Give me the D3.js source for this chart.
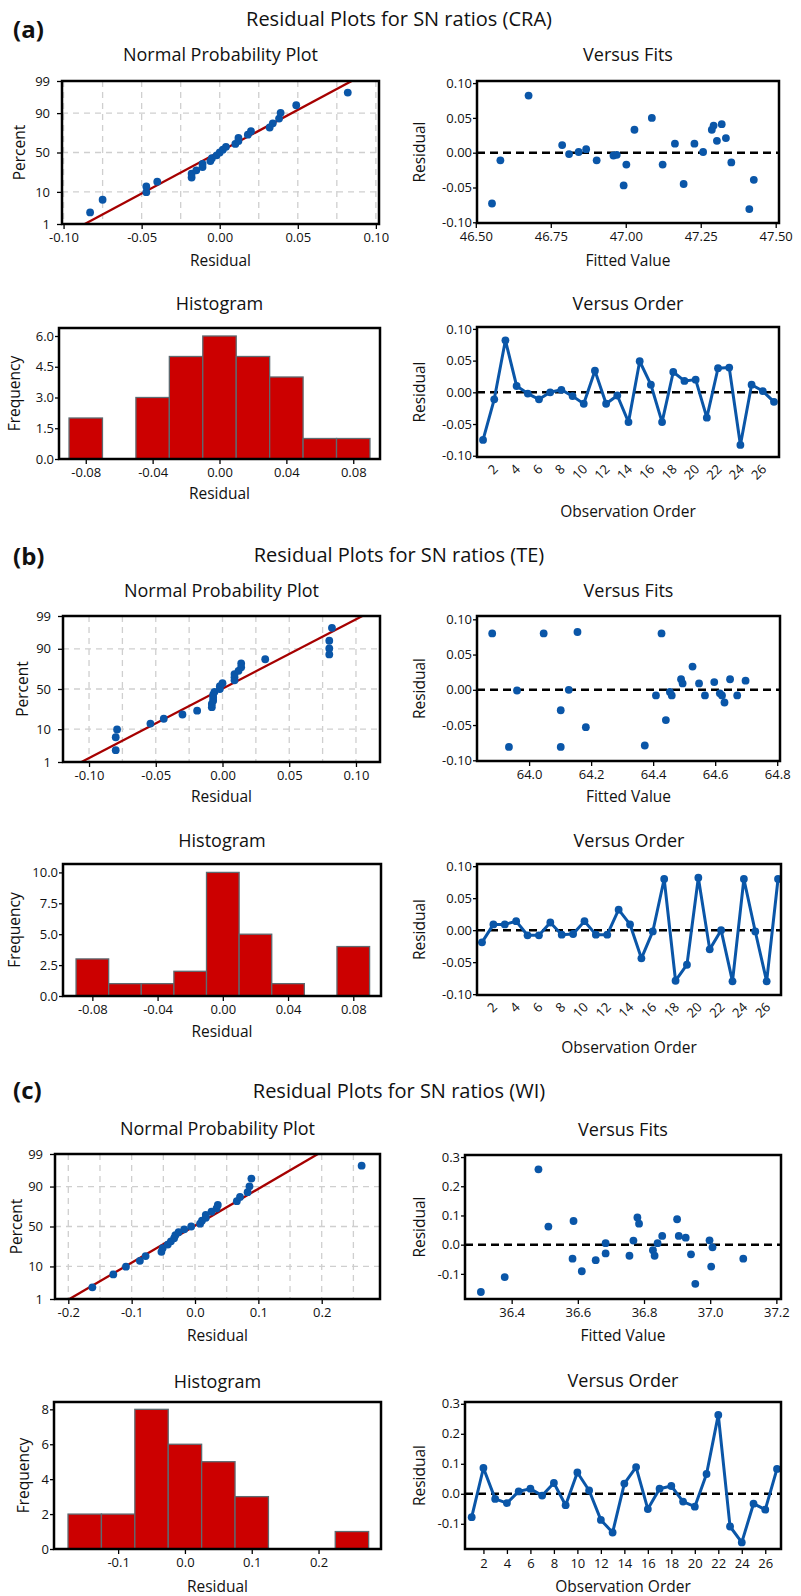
<!DOCTYPE html>
<html><head><meta charset="utf-8">
<script src="https://cdn.jsdelivr.net/npm/d3@7"></script>
<style>
body{margin:0;background:#fff;}
svg text{font-family:"Open Sans","Noto Sans",sans-serif;fill:#111;}
</style></head><body>
<svg id="chart" width="801" height="1596"></svg>
<script>
// ---------------- DATA ----------------
const sectionLabels = ["(a)", "(b)", "(c)"];
const sectionTitles = ["Residual Plots for SN ratios (CRA)", "Residual Plots for SN ratios (TE)", "Residual Plots for SN ratios (WI)"];
const panelTitles = ["Normal Probability Plot", "Versus Fits", "Histogram", "Versus Order"];

// residuals in observation order
const obsResCRA = [-0.075,-0.011,0.082,0.010,-0.002,-0.011,0.000,0.004,-0.006,-0.018,0.034,-0.018,-0.005,-0.047,0.049,0.012,-0.047,0.032,0.018,0.020,-0.040,0.038,0.039,-0.083,0.012,0.002,-0.015];
const obsResTE  = [-0.019,0.009,0.009,0.014,-0.008,-0.008,0.012,-0.007,-0.006,0.014,-0.007,-0.007,0.032,0.009,-0.044,-0.002,0.080,-0.079,-0.054,0.082,-0.030,0.000,-0.080,0.080,-0.002,-0.080,0.080];
const obsResWI  = [-0.078,0.086,-0.017,-0.031,0.008,0.017,-0.006,0.036,-0.038,0.071,0.011,-0.087,-0.129,0.034,0.089,-0.051,0.017,0.026,-0.026,-0.043,0.066,0.263,-0.109,-0.162,-0.033,-0.053,0.083];

// versus fits: fitted value / residual
const fitValCRA = [46.554,46.582,46.676,46.788,46.811,46.843,46.868,46.903,46.959,46.970,46.993,47.002,47.029,47.087,47.123,47.164,47.193,47.229,47.258,47.287,47.293,47.304,47.320,47.334,47.352,47.412,47.427];
const fitResCRA = [-0.073,-0.011,0.082,0.011,-0.002,0.001,0.005,-0.011,-0.004,-0.003,-0.047,-0.017,0.033,0.050,-0.017,0.013,-0.045,0.013,0.001,0.033,0.039,0.017,0.041,0.021,-0.014,-0.081,-0.039];
const fitValTE  = [63.881,63.935,63.961,64.047,64.102,64.102,64.128,64.156,64.183,64.373,64.409,64.427,64.441,64.454,64.460,64.490,64.495,64.527,64.548,64.567,64.597,64.615,64.622,64.630,64.648,64.671,64.698];
const fitResTE  = [0.080,-0.081,-0.001,0.080,-0.029,-0.081,0.000,0.082,-0.053,-0.079,-0.008,0.080,-0.043,-0.003,-0.008,0.015,0.009,0.033,0.009,-0.008,0.011,-0.005,-0.008,-0.018,0.015,-0.008,0.013];
const fitValWI  = [36.307,36.379,36.481,36.511,36.584,36.587,36.612,36.654,36.684,36.684,36.756,36.768,36.780,36.785,36.827,36.832,36.841,36.855,36.900,36.905,36.926,36.942,36.955,36.998,37.003,37.007,37.100];
const fitResWI  = [-0.162,-0.111,0.258,0.062,-0.048,0.081,-0.091,-0.053,-0.030,0.005,-0.038,0.014,0.093,0.072,-0.019,-0.038,0.005,0.030,0.087,0.030,0.024,-0.033,-0.134,0.015,-0.075,-0.009,-0.048];

// histograms: bin centres / counts
const histBinCRA   = [-0.08,-0.06,-0.04,-0.02,0.00,0.02,0.04,0.06,0.08];
const histCountCRA = [2,0,3,5,6,5,4,1,1];
const histBinTE    = [-0.08,-0.06,-0.04,-0.02,0.00,0.02,0.04,0.06,0.08];
const histCountTE  = [3,1,1,2,10,5,1,0,4];
const histBinWI    = [-0.15,-0.10,-0.05,0.00,0.05,0.10,0.15,0.20,0.25];
const histCountWI  = [2,2,8,6,5,3,0,0,1];

// tick labels
const nppPctTicks = [1,10,50,90,99];
const orderTicks = [2,4,6,8,10,12,14,16,18,20,22,24,26];
const resTicks2 = [-0.10,-0.05,0.00,0.05,0.10];
const resTicksWI = [-0.1,0.0,0.1,0.2,0.3];
const nppXTicksWI = [-0.2,-0.1,0.0,0.1,0.2];
const histXTicks2 = [-0.08,-0.04,0.00,0.04,0.08];
const histXTicksWI = [-0.1,0.0,0.1,0.2];
const fitTicksCRA = [46.50,46.75,47.00,47.25,47.50];
const fitTicksTE = [64.0,64.2,64.4,64.6,64.8];
const fitTicksWI = [36.4,36.6,36.8,37.0,37.2];
const histYTicksCRA = [0,1.5,3.0,4.5,6.0];
const histYTicksTE = [0,2.5,5.0,7.5,10.0];
const histYTicksWI = [0,2,4,6,8];

// ---------------- LAYOUT ----------------
const FONT = '"Open Sans","Noto Sans",sans-serif';
const BLUE = "#0a56a8", RED = "#a60000", BARFILL = "#cc0000";

const sections = [
 { label: sectionLabels[0], title: sectionTitles[0], labelY: 38, titleY: 26,
   obs: obsResCRA, fx: fitValCRA, fy: fitResCRA, hb: histBinCRA, hc: histCountCRA,
   npp:  {l:62, r:379, t:81, b:224, xd:[-0.101,0.102], xt:resTicks2, xf:".2f", grid:0.025, titleY:61, xlabY:266, ylabX:25, ypad:7},
   fits: {l:477, r:779, t:81, b:223, xd:[46.504,47.511], xt:fitTicksCRA, xf:".2f", yd:[-0.101,0.103], yt:resTicks2, yf:".2f", titleY:61, xlabY:266, ylabX:425},
   hist: {l:59, r:380, t:328, b:459, xd:[-0.096,0.096], xt:histXTicks2, xf:".2f", yd:[0,6.39], yt:histYTicksCRA, yf:".1f", bw:0.02, titleY:310, xlabY:499, ylabX:20},
   order:{l:477, r:779, t:327, b:457, xd:[0.46,27.45], yd:[-0.102,0.103], yt:resTicks2, yf:".2f", rot:true, titleY:310, xlabY:517, ylabX:425} },
 { label: sectionLabels[1], title: sectionTitles[1], labelY: 565, titleY: 562,
   obs: obsResTE, fx: fitValTE, fy: fitResTE, hb: histBinTE, hc: histCountTE,
   npp:  {l:63, r:380, t:616, b:762, xd:[-0.1195,0.118], xt:resTicks2, xf:".2f", grid:0.025, titleY:597, xlabY:802, ylabX:28, ypad:7},
   fits: {l:477, r:780, t:616, b:761, xd:[63.832,64.809], xt:fitTicksTE, xf:".1f", yd:[-0.101,0.1047], yt:resTicks2, yf:".2f", titleY:597, xlabY:802, ylabX:425},
   hist: {l:63, r:381, t:864, b:996, xd:[-0.098,0.097], xt:histXTicks2, xf:".2f", yd:[0,10.68], yt:histYTicksTE, yf:".1f", bw:0.02, titleY:847, xlabY:1037, ylabX:20},
   order:{l:477, r:781, t:864, b:995, xd:[0.56,27.26], yd:[-0.1013,0.1034], yt:resTicks2, yf:".2f", rot:true, titleY:847, xlabY:1053, ylabX:425} },
 { label: sectionLabels[2], title: sectionTitles[2], labelY: 1099, titleY: 1098,
   obs: obsResWI, fx: fitValWI, fy: fitResWI, hb: histBinWI, hc: histCountWI,
   npp:  {l:55, r:380, t:1154, b:1299, xd:[-0.221,0.292], xt:nppXTicksWI, xf:".1f", grid:0.05, titleY:1135, xlabY:1341, ylabX:22, ypad:7},
   fits: {l:465, r:781, t:1155, b:1299, xd:[36.259,37.214], xt:fitTicksWI, xf:".1f", yd:[-0.186,0.307], yt:resTicksWI, yf:".1f", titleY:1136, xlabY:1341, ylabX:425},
   hist: {l:54, r:381, t:1402, b:1549, xd:[-0.196,0.2935], xt:histXTicksWI, xf:".1f", yd:[0,8.42], yt:histYTicksWI, yf:"d", bw:0.05, titleY:1388, xlabY:1592, ylabX:29},
   order:{l:465, r:781, t:1402, b:1549, xd:[0.43,27.34], yd:[-0.184,0.306], yt:resTicksWI, yf:".1f", rot:false, titleY:1387, xlabY:1592, ylabX:425} }
];

// ---------------- HELPERS ----------------
const svg = d3.select("#chart");
const fmt = f => (d => d3.format(f)(d).replace("\u2212", "-"));

function probit(p){
  const a=[-3.969683028665376e+01,2.209460984245205e+02,-2.759285104469687e+02,1.383577518672690e+02,-3.066479806614716e+01,2.506628277459239e+00];
  const b=[-5.447609879822406e+01,1.615858368580409e+02,-1.556989798598866e+02,6.680131188771972e+01,-1.328068155288572e+01];
  const c=[-7.784894002430293e-03,-3.223964580411365e-01,-2.400758277161838e+00,-2.549732539343734e+00,4.374664141464968e+00,2.938163982698783e+00];
  const d=[7.784695709041462e-03,3.224671290700398e-01,2.445134137142996e+00,3.754408661907416e+00];
  const pl=0.02425, ph=1-pl; let q,r;
  if(p<pl){q=Math.sqrt(-2*Math.log(p));return (((((c[0]*q+c[1])*q+c[2])*q+c[3])*q+c[4])*q+c[5])/((((d[0]*q+d[1])*q+d[2])*q+d[3])*q+1);}
  if(p<=ph){q=p-0.5;r=q*q;return (((((a[0]*r+a[1])*r+a[2])*r+a[3])*r+a[4])*r+a[5])*q/(((((b[0]*r+b[1])*r+b[2])*r+b[3])*r+b[4])*r+1);}
  q=Math.sqrt(-2*Math.log(1-p));return -(((((c[0]*q+c[1])*q+c[2])*q+c[3])*q+c[4])*q+c[5])/((((d[0]*q+d[1])*q+d[2])*q+d[3])*q+1);
}

function styleAxis(g){
  g.attr("font-family", FONT).attr("font-size", 13);
  g.select(".domain").remove();
  g.selectAll(".tick line").attr("stroke","#000").attr("stroke-width",1.3);
  g.selectAll(".tick text").attr("fill","#111");
}
function frame(c){
  svg.append("rect").attr("x",c.l).attr("y",c.t).attr("width",c.r-c.l).attr("height",c.b-c.t)
    .attr("fill","none").attr("stroke","#000").attr("stroke-width",2.5);
}
function texts(c, title, xlab, ylab){
  const cx = (c.l + c.r) / 2;
  svg.append("text").attr("x",cx).attr("y",c.titleY).attr("text-anchor","middle").style("font-size","18px").text(title);
  svg.append("text").attr("x",cx).attr("y",c.xlabY).attr("text-anchor","middle").style("font-size","15.5px").text(xlab);
  svg.append("text").attr("transform",`translate(${c.ylabX},${(c.t+c.b)/2}) rotate(-90)`).attr("text-anchor","middle").style("font-size","15.5px").text(ylab);
}
function zeroLine(c, y){
  svg.append("line").attr("x1",c.l).attr("x2",c.r).attr("y1",y(0)).attr("y2",y(0))
    .attr("stroke","#000").attr("stroke-width",2.5).attr("stroke-dasharray","8,5");
}

// ---------------- PANELS ----------------
function drawNPP(c, res){
  const x = d3.scaleLinear().domain(c.xd).range([c.l, c.r]);
  const zLo = probit(0.01), zHi = probit(0.99);
  const y = d3.scaleLinear().domain([zLo, zHi]).range([c.b, c.t]);
  const gx = d3.range(Math.ceil(c.xd[0]/c.grid - 1e-9), Math.floor(c.xd[1]/c.grid + 1e-9) + 1).map(k => k*c.grid);
  svg.append("g").selectAll("line").data(gx).join("line")
    .attr("x1",d=>x(d)).attr("x2",d=>x(d)).attr("y1",c.t).attr("y2",c.b)
    .attr("stroke","#cfcfcf").attr("stroke-width",1.3).attr("stroke-dasharray","6,5");
  svg.append("g").selectAll("line").data([10,50,90]).join("line")
    .attr("x1",c.l).attr("x2",c.r).attr("y1",d=>y(probit(d/100))).attr("y2",d=>y(probit(d/100)))
    .attr("stroke","#cfcfcf").attr("stroke-width",1.3).attr("stroke-dasharray","6,5");
  const m = d3.mean(res), s = d3.deviation(res);
  svg.append("line").attr("x1",x(m + s*zLo)).attr("y1",y(zLo)).attr("x2",x(m + s*zHi)).attr("y2",y(zHi))
    .attr("stroke",RED).attr("stroke-width",2.3);
  const n = res.length;
  const pts = res.slice().sort(d3.ascending).map((v,i) => ({v, z: probit((i + 1 - 0.3)/(n + 0.4))}));
  svg.append("g").selectAll("circle").data(pts).join("circle")
    .attr("cx",d=>x(d.v)).attr("cy",d=>y(d.z)).attr("r",3.9).attr("fill",BLUE);
  svg.append("g").attr("transform",`translate(0,${c.b})`)
    .call(d3.axisBottom(x).tickValues(c.xt).tickFormat(fmt(c.xf)).tickSize(5).tickPadding(4)).call(styleAxis);
  svg.append("g").attr("transform",`translate(${c.l},0)`)
    .call(d3.axisLeft(y).tickValues(nppPctTicks.map(p=>probit(p/100))).tickFormat((d,i)=>nppPctTicks[i]).tickSize(5).tickPadding(c.ypad)).call(styleAxis);
  frame(c);
  texts(c, panelTitles[0], "Residual", "Percent");
}

function drawFits(c, fx, fy){
  const x = d3.scaleLinear().domain(c.xd).range([c.l, c.r]);
  const y = d3.scaleLinear().domain(c.yd).range([c.b, c.t]);
  zeroLine(c, y);
  svg.append("g").selectAll("circle").data(fx.map((v,i)=>[v, fy[i]])).join("circle")
    .attr("cx",d=>x(d[0])).attr("cy",d=>y(d[1])).attr("r",3.9).attr("fill",BLUE);
  svg.append("g").attr("transform",`translate(0,${c.b})`)
    .call(d3.axisBottom(x).tickValues(c.xt).tickFormat(fmt(c.xf)).tickSize(5).tickPadding(4)).call(styleAxis);
  svg.append("g").attr("transform",`translate(${c.l},0)`)
    .call(d3.axisLeft(y).tickValues(c.yt).tickFormat(fmt(c.yf)).tickSize(4).tickPadding(1)).call(styleAxis);
  frame(c);
  texts(c, panelTitles[1], "Fitted Value", "Residual");
}

function drawHist(c, bins, counts){
  const x = d3.scaleLinear().domain(c.xd).range([c.l, c.r]);
  const y = d3.scaleLinear().domain(c.yd).range([c.b, c.t]);
  const data = bins.map((m,i)=>({m, n: counts[i]})).filter(d => d.n > 0);
  svg.append("g").selectAll("rect").data(data).join("rect")
    .attr("x",d=>x(d.m - c.bw/2)).attr("width",d=>x(d.m + c.bw/2) - x(d.m - c.bw/2))
    .attr("y",d=>y(d.n)).attr("height",d=>y(0) - y(d.n))
    .attr("fill",BARFILL).attr("stroke","#5e6a70").attr("stroke-width",1.3);
  svg.append("g").attr("transform",`translate(0,${c.b})`)
    .call(d3.axisBottom(x).tickValues(c.xt).tickFormat(fmt(c.xf)).tickSize(5).tickPadding(4)).call(styleAxis);
  svg.append("g").attr("transform",`translate(${c.l},0)`)
    .call(d3.axisLeft(y).tickValues(c.yt).tickFormat(fmt(c.yf)).tickSize(4).tickPadding(1)).call(styleAxis);
  frame(c);
  texts(c, panelTitles[2], "Residual", "Frequency");
}

function drawOrder(c, res){
  const x = d3.scaleLinear().domain(c.xd).range([c.l, c.r]);
  const y = d3.scaleLinear().domain(c.yd).range([c.b, c.t]);
  zeroLine(c, y);
  const pts = res.map((v,i)=>[i+1, v]);
  svg.append("path").datum(pts).attr("fill","none").attr("stroke",BLUE).attr("stroke-width",3)
    .attr("stroke-linejoin","round").attr("d", d3.line().x(d=>x(d[0])).y(d=>y(d[1])));
  svg.append("g").selectAll("circle").data(pts).join("circle")
    .attr("cx",d=>x(d[0])).attr("cy",d=>y(d[1])).attr("r",3.9).attr("fill",BLUE);
  const ax = svg.append("g").attr("transform",`translate(0,${c.b})`)
    .call(d3.axisBottom(x).tickValues(orderTicks).tickFormat(d3.format("d")).tickSize(c.rot ? 0 : 5).tickPadding(5)).call(styleAxis);
  if (c.rot) {
    ax.selectAll(".tick text").attr("x",0).attr("y",0).attr("dy",null)
      .attr("transform","translate(4,13) rotate(-45)").attr("text-anchor","end");
  }
  svg.append("g").attr("transform",`translate(${c.l},0)`)
    .call(d3.axisLeft(y).tickValues(c.yt).tickFormat(fmt(c.yf)).tickSize(4).tickPadding(1)).call(styleAxis);
  frame(c);
  texts(c, panelTitles[3], "Observation Order", "Residual");
}

// ---------------- DRAW ----------------
sections.forEach(s => {
  svg.append("text").attr("x",13).attr("y",s.labelY).style("font-size","24px").style("font-weight","bold").text(s.label);
  svg.append("text").attr("x",399).attr("y",s.titleY).attr("text-anchor","middle").style("font-size","20px").text(s.title);
  drawNPP(s.npp, s.obs);
  drawFits(s.fits, s.fx, s.fy);
  drawHist(s.hist, s.hb, s.hc);
  drawOrder(s.order, s.obs);
});
</script>
</body></html>
